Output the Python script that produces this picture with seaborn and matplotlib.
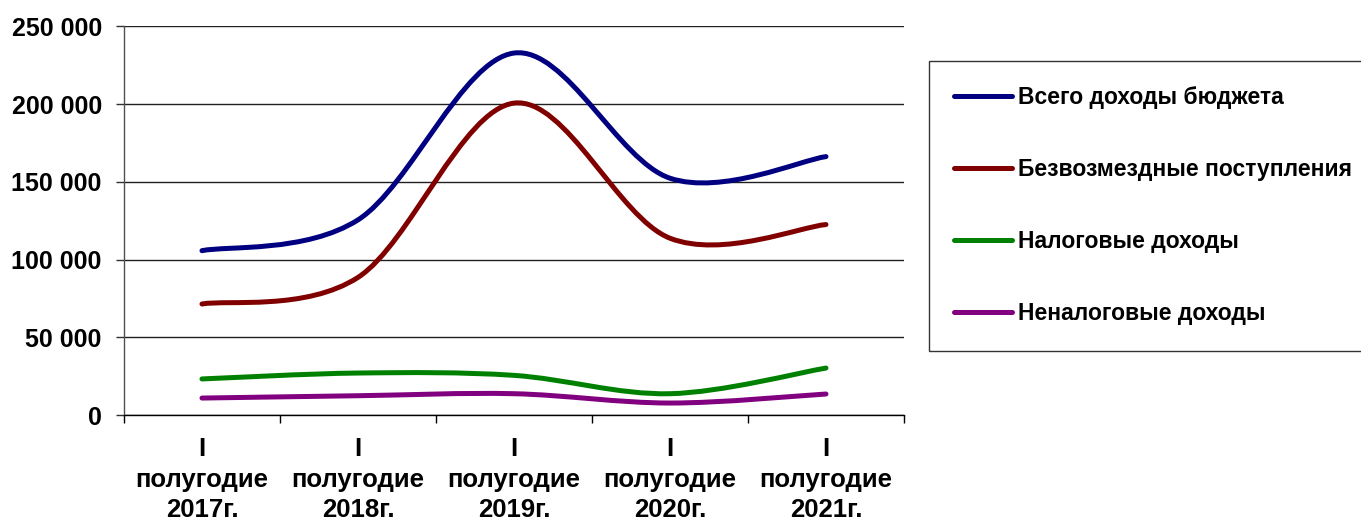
import numpy as np
import pandas as pd
import seaborn as sns
import matplotlib.pyplot as plt
from matplotlib.path import Path
from matplotlib.patches import PathPatch
from matplotlib.lines import Line2D
from matplotlib.ticker import FuncFormatter, MultipleLocator, FixedLocator

# Данные (тыс. руб.)
periods = ["I\nполугодие\n2017г.", "I\nполугодие\n2018г.", "I\nполугодие\n2019г.",
           "I\nполугодие\n2020г.", "I\nполугодие\n2021г."]
total_income = [105700, 125500, 232800, 152300, 166200]
gratuitous = [71400, 88500, 200600, 113700, 122500]
tax_income = [23200, 27000, 25500, 13700, 30200]
nontax_income = [10900, 12400, 13700, 7700, 13500]

series_names = ["Всего доходы бюджета", "Безвозмездные поступления",
                "Налоговые доходы", "Неналоговые доходы"]
series_colors = ["#000080", "#800000", "#008000", "#800080"]

df = pd.DataFrame({"period": periods,
                   series_names[0]: total_income,
                   series_names[1]: gratuitous,
                   series_names[2]: tax_income,
                   series_names[3]: nontax_income})


def smooth_path(xs, ys):
    """Сглаженная линия как в Excel: кривые Безье с касательными Catmull-Rom."""
    pts = np.column_stack([xs, ys]).astype(float)
    ext = np.vstack([pts[0], pts, pts[-1]])
    verts = [pts[0]]
    codes = [Path.MOVETO]
    for i in range(len(pts) - 1):
        p0, p1, p2, p3 = ext[i], ext[i + 1], ext[i + 2], ext[i + 3]
        verts += [p1 + (p2 - p0) / 6, p2 - (p3 - p1) / 6, p2]
        codes += [Path.CURVE4] * 3
    return Path(verts, codes)


sns.set_theme(style="white", rc={"text.color": "black", "xtick.color": "black",
                                 "ytick.color": "black", "axes.labelcolor": "black"})
plt.rcParams["font.family"] = ["Liberation Sans", "DejaVu Sans"]
plt.rcParams["font.weight"] = "bold"

fig = plt.figure(figsize=(13.61, 5.24), dpi=100)
ax = fig.add_axes([0.0911, 0.208, 0.5731, 0.7418])

x = np.arange(len(periods))
palette = sns.color_palette(series_colors)
for name, color in zip(series_names, palette):
    patch = PathPatch(smooth_path(x, df[name].values), facecolor="none", edgecolor=color,
                      lw=3.6, capstyle="round", joinstyle="round", zorder=3)
    ax.add_patch(patch)

ax.set_xlim(-0.5, len(periods) - 0.5)
ax.set_ylim(0, 250000)

ax.yaxis.set_major_locator(MultipleLocator(50000))
ax.yaxis.set_major_formatter(FuncFormatter(lambda v, p: f"{int(v):,}".replace(",", " ")))
ax.grid(axis="y", color="#202020", lw=1.0)
ax.set_axisbelow(True)

ax.set_xticks(x)
ax.set_xticklabels(periods, fontsize=18.5, fontweight="bold", linespacing=1.33, color="black")
ax.xaxis.set_minor_locator(FixedLocator(np.arange(-0.5, len(periods), 1.0)))
ax.tick_params(axis="x", which="major", length=0, pad=16)
ax.tick_params(axis="x", which="minor", length=6, width=1, color="black", direction="out", bottom=True)
ax.tick_params(axis="y", which="major", length=6, width=1, color="#303030", direction="out",
               left=True, labelsize=18, labelcolor="black", pad=10)
for lab in ax.get_yticklabels():
    lab.set_fontweight("bold")

sns.despine(ax=ax, top=True, right=True)
ax.spines["left"].set_color("#505050")
ax.spines["bottom"].set_color("black")
ax.spines["left"].set_linewidth(1.0)
ax.spines["bottom"].set_linewidth(1.0)

handles = [Line2D([0], [0], color=c, lw=3.6, solid_capstyle="round") for c in palette]
leg = fig.legend(handles, series_names, loc="upper left",
                 bbox_to_anchor=(929 / 1361, 1 - 61 / 524), borderaxespad=0,
                 frameon=True, fancybox=False, edgecolor="black",
                 handlelength=2.53, handletextpad=0.26, labelspacing=2.14, borderpad=1.1,
                 prop={"weight": "bold", "size": 16.5})
leg.get_frame().set_linewidth(1.0)
for t in leg.get_texts():
    t.set_color("black")

fig.savefig("out.png", dpi=100)
